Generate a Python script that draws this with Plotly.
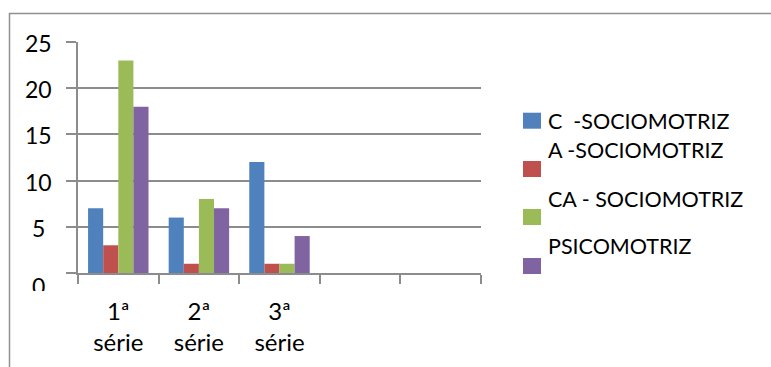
import plotly.graph_objects as go

# Categories (two trailing empty slots, as in the original worksheet)
categories = ["1ª<br>série", "2ª<br>série", "3ª<br>série", " ", "  "]
series_names = ["C  -SOCIOMOTRIZ", "A -SOCIOMOTRIZ", "CA - SOCIOMOTRIZ", "PSICOMOTRIZ"]
c_socio = [7, 6, 12, None, None]
a_socio = [3, 1, 1, None, None]
ca_socio = [23, 8, 1, None, None]
psico = [18, 7, 4, None, None]
series_values = [c_socio, a_socio, ca_socio, psico]
series_colors = ["#4F81BD", "#C0504D", "#9BBB59", "#8064A2"]
y_ticks = [5, 10, 15, 20, 25]

FONT = "Lato, 'Open Sans', sans-serif"
GRID = "#8c8c8c"

# plot-area geometry in pixels
W_FIG, H_FIG = 771, 367
L, T, PW, PH = 78, 42, 403, 231


def px_x(px):
    return (px - L) / PW


def px_y(py):
    return (T + PH - py) / PH


fig = go.Figure()
for name, vals, col in zip(series_names, series_values, series_colors):
    fig.add_trace(go.Bar(x=categories, y=vals, name=name, marker_color=col,
                         marker_line_width=0, showlegend=False))

# y tick labels, centred like the spreadsheet labels
annotations = []
for v in y_ticks:
    annotations.append(dict(x=px_x(38.5), xref="paper", y=v, yref="y", text=str(v),
                            showarrow=False, xanchor="center", yanchor="middle",
                            yshift=-1, font=dict(family=FONT, size=23, color="black")))
# the zero label is partly hidden below the axis
annotations.append(dict(x=px_x(38.5), xref="paper", y=0, yref="y", text="0",
                        showarrow=False, xanchor="center", yanchor="top",
                        yshift=2, height=19, valign="top", borderpad=0,
                        font=dict(family=FONT, size=23, color="black")))

# legend: swatch below the (wrapped) text of each entry
legend_text_y = [121.5, 150, 199, 245.5]
legend_swatch_y = [120.7, 169, 217, 266]
shapes = []
for name, col, ty, sy in zip(series_names, series_colors, legend_text_y, legend_swatch_y):
    annotations.append(dict(x=px_x(546), xref="paper", y=px_y(ty), yref="paper", text=name,
                            showarrow=False, xanchor="left", yanchor="middle",
                            font=dict(family=FONT, size=21.5, color="black")))
    shapes.append(dict(type="rect", xref="paper", yref="paper",
                       x0=px_x(523), x1=px_x(541), y0=px_y(sy + 8), y1=px_y(sy - 8),
                       fillcolor=col, line_width=0))

# chart-area border (left and top edges visible)
shapes.append(dict(type="rect", xref="paper", yref="paper",
                   x0=px_x(9.5), x1=px_x(800), y0=px_y(400), y1=px_y(13.5),
                   line=dict(color="#8f8f8f", width=1.5), fillcolor="rgba(0,0,0,0)", layer="below"))

fig.update_layout(
    width=W_FIG, height=H_FIG,
    margin=dict(l=L, r=W_FIG - L - PW, t=T, b=H_FIG - T - PH),
    paper_bgcolor="white", plot_bgcolor="white",
    barmode="group", bargap=0.25, bargroupgap=0,
    font=dict(family=FONT, color="black"),
    annotations=annotations, shapes=shapes,
    showlegend=False,
)
fig.update_xaxes(type="category", categoryarray=categories, tickson="boundaries",
                 showline=True, linecolor=GRID, linewidth=2,
                 ticks="outside", ticklen=9, tickwidth=2, tickcolor=GRID,
                 showgrid=False, tickfont=dict(family=FONT, size=24, color="black"),
                 ticklabelstandoff=16)
fig.update_yaxes(range=[0, 25], tickvals=[0] + y_ticks, showticklabels=False,
                 showline=True, linecolor=GRID, linewidth=2,
                 ticks="outside", ticklen=10, tickwidth=2, tickcolor=GRID,
                 showgrid=True, gridcolor=GRID, gridwidth=2, zeroline=False)

fig.write_html("out.html")
